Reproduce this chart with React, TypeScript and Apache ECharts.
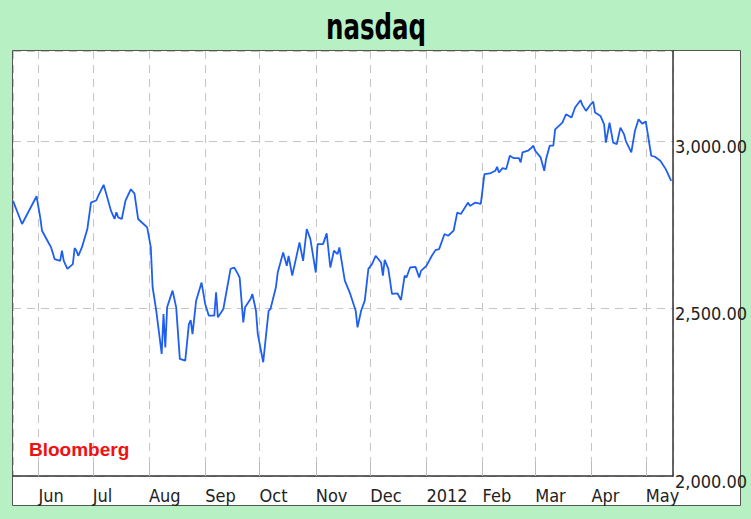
import React, { useEffect, useRef } from "react";
import * as echarts from "echarts";

const chartTitle = "nasdaq";
const sourceLabel = "Bloomberg";
const monthNames = ["Jan", "Feb", "Mar", "Apr", "May", "Jun", "Jul", "Aug", "Sep", "Oct", "Nov", "Dec"];

const axisMin = "2011-05-18";
const axisMax = "2012-05-16";
const yMin = 2000;
const yMax = 3270;
const yStep = 500;

const dates = [
  "2011-05-18", "2011-05-23", "2011-05-31", "2011-06-02", "2011-06-03", "2011-06-06", "2011-06-08", "2011-06-10",
  "2011-06-13", "2011-06-14", "2011-06-15", "2011-06-17", "2011-06-20", "2011-06-21", "2011-06-22", "2011-06-23",
  "2011-06-25", "2011-06-28", "2011-06-30", "2011-07-03", "2011-07-04", "2011-07-07", "2011-07-09", "2011-07-11",
  "2011-07-13", "2011-07-14", "2011-07-15", "2011-07-17", "2011-07-19", "2011-07-22", "2011-07-24", "2011-07-26",
  "2011-07-29", "2011-07-31", "2011-08-02", "2011-08-03", "2011-08-05", "2011-08-08", "2011-08-09", "2011-08-10",
  "2011-08-11", "2011-08-14", "2011-08-16", "2011-08-18", "2011-08-21", "2011-08-23", "2011-08-24", "2011-08-25",
  "2011-08-27", "2011-08-30", "2011-09-01", "2011-09-03", "2011-09-06", "2011-09-07", "2011-09-08", "2011-09-11",
  "2011-09-15", "2011-09-17", "2011-09-19", "2011-09-20", "2011-09-22", "2011-09-23", "2011-09-26", "2011-09-27",
  "2011-09-29", "2011-09-30", "2011-10-03", "2011-10-05", "2011-10-06", "2011-10-07", "2011-10-10", "2011-10-11",
  "2011-10-14", "2011-10-16", "2011-10-17", "2011-10-19", "2011-10-21", "2011-10-23", "2011-10-25", "2011-10-27",
  "2011-10-29", "2011-11-01", "2011-11-02", "2011-11-05", "2011-11-07", "2011-11-09", "2011-11-11", "2011-11-13",
  "2011-11-14", "2011-11-17", "2011-11-20", "2011-11-23", "2011-11-24", "2011-11-26", "2011-11-28", "2011-11-30",
  "2011-12-02", "2011-12-04", "2011-12-07", "2011-12-08", "2011-12-09", "2011-12-11", "2011-12-13", "2011-12-16",
  "2011-12-18", "2011-12-20", "2011-12-21", "2011-12-23", "2011-12-26", "2011-12-28", "2011-12-29", "2012-01-01",
  "2012-01-04", "2012-01-06", "2012-01-08", "2012-01-11", "2012-01-13", "2012-01-16", "2012-01-18", "2012-01-20",
  "2012-01-24", "2012-01-25", "2012-01-28", "2012-01-31", "2012-02-02", "2012-02-05", "2012-02-08", "2012-02-09",
  "2012-02-10", "2012-02-12", "2012-02-14", "2012-02-16", "2012-02-18", "2012-02-21", "2012-02-22", "2012-02-23",
  "2012-02-26", "2012-02-28", "2012-02-29", "2012-03-01", "2012-03-04", "2012-03-06", "2012-03-07", "2012-03-09",
  "2012-03-11", "2012-03-12", "2012-03-16", "2012-03-18", "2012-03-21", "2012-03-23", "2012-03-26", "2012-03-27",
  "2012-03-29", "2012-04-01", "2012-04-02", "2012-04-03", "2012-04-06", "2012-04-08", "2012-04-09", "2012-04-11",
  "2012-04-13", "2012-04-15", "2012-04-17", "2012-04-19", "2012-04-20", "2012-04-23", "2012-04-25", "2012-04-27",
  "2012-04-29", "2012-05-01", "2012-05-04", "2012-05-06", "2012-05-09", "2012-05-12", "2012-05-15",
];

const values = [
  2822, 2753, 2836, 2773, 2733, 2703, 2683, 2648,
  2643, 2673, 2643, 2619, 2633, 2681, 2673, 2658,
  2683, 2738, 2817, 2824, 2837, 2870, 2832, 2793,
  2768, 2788, 2773, 2768, 2822, 2857, 2844, 2768,
  2753, 2743, 2683, 2564, 2494, 2365, 2484, 2384,
  2504, 2554, 2504, 2350, 2345, 2454, 2466, 2424,
  2524, 2578, 2514, 2479, 2479, 2549, 2474, 2499,
  2619, 2623, 2604, 2593, 2459, 2504, 2529, 2544,
  2494, 2424, 2340, 2444, 2494, 2499, 2564, 2608,
  2668, 2628, 2658, 2599, 2648, 2698, 2643, 2738,
  2708, 2608, 2693, 2693, 2725, 2623, 2673, 2663,
  2683, 2584, 2544, 2494, 2444, 2494, 2524, 2619,
  2633, 2658, 2638, 2599, 2646, 2619, 2544, 2546,
  2526, 2599, 2593, 2623, 2625, 2593, 2613, 2628,
  2658, 2675, 2678, 2723, 2718, 2733, 2787, 2783,
  2817, 2807, 2817, 2813, 2902, 2904, 2912, 2924,
  2907, 2920, 2917, 2957, 2950, 2950, 2937, 2967,
  2972, 2981, 2987, 2972, 2952, 2912, 2947, 2987,
  2987, 3036, 3056, 3081, 3071, 3101, 3123, 3109,
  3091, 3113, 3119, 3086, 3076, 3051, 2996, 3056,
  2996, 2992, 3041, 3021, 3001, 2967, 3031, 3066,
  3053, 3059, 2957, 2954, 2942, 2917, 2882,
];

const condensed = "'DejaVu Sans Condensed', 'Liberation Sans Narrow', 'Roboto Condensed', 'DejaVu Sans', sans-serif";

export default function App() {
  const ref = useRef<HTMLDivElement>(null);

  useEffect(() => {
    document.body.style.margin = "0";
    const chart = echarts.init(ref.current!, undefined, { renderer: "svg" });
    const seriesData = dates.map((d, i) => [d, values[i]]);
    chart.setOption({
      animation: false,
      backgroundColor: "#b7f1c3",
      graphic: [
        {
          type: "rect",
          z: -1,
          silent: true,
          shape: { x: 12.5, y: 50.5, width: 728, height: 455 },
          style: { fill: "#ffffff", stroke: "#555555", lineWidth: 1 },
        },
        {
          type: "text",
          x: 376,
          y: 27,
          scaleX: 0.8,
          scaleY: 1.05,
          style: {
            text: chartTitle,
            fill: "#000000",
            font: "bold 34px " + condensed,
            textAlign: "center",
            textVerticalAlign: "middle",
          },
        },
        {
          type: "text",
          x: 29,
          y: 440,
          z: 10,
          style: {
            text: sourceLabel,
            fill: "#f01010",
            font: "bold 19px 'Liberation Sans', Arial, sans-serif",
            textAlign: "left",
            textVerticalAlign: "top",
          },
        },
      ],
      grid: { left: 13, right: 78, top: 51, bottom: 43, containLabel: false },
      xAxis: {
        type: "time",
        min: axisMin,
        max: axisMax,
        splitNumber: 12,
        minInterval: 28 * 86400000,
        maxInterval: 31 * 86400000,
        axisLine: { show: true, lineStyle: { color: "#333333", width: 1.5 } },
        axisTick: { show: true, inside: true, length: 14, lineStyle: { color: "#bbbbbb", width: 1 } },
        splitLine: { show: true, lineStyle: { color: "#c4c4c4", type: [8, 6], width: 1 } },
        axisLabel: {
          show: true,
          showMinLabel: false,
          showMaxLabel: false,
          align: "left",
          margin: 10,
          color: "#222222",
          fontSize: 18,
          fontFamily: condensed,
          formatter: (value: number) => {
            const d = new Date(value);
            return d.getMonth() === 0 ? String(d.getFullYear()) : monthNames[d.getMonth()];
          },
        },
      },
      yAxis: {
        type: "value",
        position: "right",
        min: yMin,
        max: yMax,
        interval: yStep,
        axisLine: { show: true, lineStyle: { color: "#333333", width: 1.5 } },
        axisTick: { show: false },
        splitLine: { show: true, lineStyle: { color: "#c4c4c4", type: [8, 6], width: 1 } },
        axisLabel: {
          show: true,
          showMaxLabel: false,
          margin: 2,
          verticalAlign: "top",
          lineHeight: 10,
          color: "#222222",
          fontSize: 18,
          fontFamily: condensed,
          formatter: (v: number) =>
            v % yStep === 0
              ? v.toLocaleString("en-US", { minimumFractionDigits: 2, maximumFractionDigits: 2 })
              : "",
        },
      },
      series: [
        {
          type: "line",
          data: seriesData,
          showSymbol: false,
          symbol: "none",
          lineStyle: { color: "#1f5ff0", width: 1.8 },
          z: 5,
        },
      ],
    });
    return () => chart.dispose();
  }, []);

  return <div ref={ref} style={{ position: "fixed", left: 0, top: 0, width: 751, height: 519 }} />;
}
